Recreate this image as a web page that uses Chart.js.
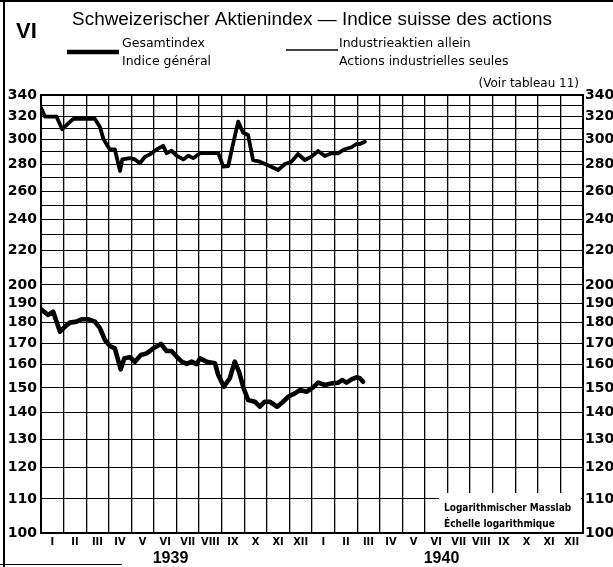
<!DOCTYPE html>
<html>
<head>
<meta charset="utf-8">
<script src="https://cdn.jsdelivr.net/npm/chart.js@4.4.0/dist/chart.umd.min.js"></script>
<style>
  html, body { margin: 0; padding: 0; background: #fff; }
  #wrap { width: 613px; height: 567px; }
</style>
</head>
<body>
<div id="wrap"><canvas id="aktienChart" width="613" height="567"></canvas></div>
<script>
// tick labels
let monthLabels = ['I','II','III','IV','V','VI','VII','VIII','IX','X','XI','XII',
                   'I','II','III','IV','V','VI','VII','VIII','IX','X','XI','XII'];
let yearLabels = ['1939', '1940'];
let yLabelValues = [100,110,120,130,140,150,160,170,180,190,200,220,240,260,280,300,320,340];
let yGridValues = [100,110,120,130,140,150,160,170,180,190,200,210,220,230,240,250,
                   260,270,280,290,300,310,320,330,340];

// x = months after 1 Jan 1939
let gesamtMonth = [0, 0.32, 0.54, 0.84, 1.06, 1.28, 1.58, 1.8, 2.09, 2.39, 2.61, 2.83, 3.05, 3.27,
                   3.53, 3.69, 3.94, 4.16, 4.42, 4.68, 4.97, 5.31, 5.56, 5.78, 6.0, 6.23, 6.45,
                   6.67, 6.89, 7.04, 7.33, 7.7, 7.85, 8.1, 8.36, 8.58, 8.77, 8.95, 9.17, 9.47,
                   9.69, 9.91, 10.13, 10.46, 10.72, 10.94, 11.24, 11.46, 11.76, 12.05, 12.27,
                   12.57, 12.86, 13.15, 13.35, 13.53, 13.75, 13.97, 14.12, 14.26];
let gesamtValue = [186.8, 183.9, 185.6, 175.5, 178, 180, 180.5, 181.7, 181.7, 180.5, 177.2, 171.5,
                   168.6, 167.5, 158, 162.9, 163.4, 161.4, 164.4, 165.2, 167.5, 169.6, 166.3, 166.3,
                   163.7, 161.4, 160.4, 161.4, 160.3, 162.9, 161.4, 160.7, 155.5, 150.5, 154.1,
                   161.4, 156.9, 150.5, 145, 144.3, 142.3, 144.3, 144.3, 142.3, 144.3, 146.3,
                   147.7, 149.1, 148.4, 150.2, 152.2, 151.2, 151.9, 152.2, 153.3, 152.2, 153.6,
                   154.5, 154.1, 152.6];

let industrieMonth = [0, 0.18, 0.69, 0.94, 1.21, 1.43, 2.39, 2.61, 2.76, 2.91, 3.05, 3.27, 3.5,
                      3.6, 3.94, 4.16, 4.38, 4.6, 4.82, 5.12, 5.41, 5.56, 5.78, 6.0, 6.3, 6.52,
                      6.74, 7.04, 7.4, 7.85, 8.07, 8.29, 8.51, 8.73, 8.95, 9.17, 9.39, 9.69,
                      10.13, 10.5, 10.8, 11.09, 11.38, 11.68, 11.98, 12.27, 12.57, 12.86, 13.15,
                      13.45, 13.75, 13.97, 14.12, 14.34];
let industrieValue = [328, 320, 320, 309, 314, 318, 318, 311, 301, 296, 292, 292, 275,
                      284, 285, 284, 281, 286, 288, 292, 295, 289, 291, 287, 284, 287,
                      285, 289, 289, 289, 278.3, 278.8, 297, 315.6, 306, 304, 283.5, 282.2,
                      278.8, 275.7, 280.4, 282.2, 288.3, 283.5, 286.2, 290.8, 286.7, 288.9, 288.9,
                      292.2, 293.8, 296.5, 296.5, 298.4];

function toPoints(xs, ys) {
  return xs.map((x, i) => ({ x: x, y: ys[i] }));
}

let tickFont = { family: 'DejaVu Sans', size: 14, weight: 'bold' };

let decorPlugin = {
  id: 'decor',
  afterDraw: function (chart) {
    let ctx = chart.ctx;
    ctx.save();
    ctx.fillStyle = '#000';
    ctx.strokeStyle = '#000';

    // page frame
    ctx.lineWidth = 2;
    ctx.beginPath();
    ctx.moveTo(4, 0); ctx.lineTo(4, 567);
    ctx.moveTo(0, 1); ctx.lineTo(613, 1);
    ctx.stroke();
    ctx.lineWidth = 1;
    ctx.beginPath();
    ctx.moveTo(0, 564.5); ctx.lineTo(122, 564.5);
    ctx.stroke();

    // heading
    ctx.textBaseline = 'middle';
    ctx.textAlign = 'left';
    ctx.font = 'bold 22px "Liberation Sans"';
    ctx.fillText('VI', 16, 32);
    let title = 'Schweizerischer Aktienindex \u2014 Indice suisse des actions';
    ctx.font = '18px "Liberation Sans"';
    let size = 18 * 480 / ctx.measureText(title).width;
    ctx.font = size.toFixed(1) + 'px "Liberation Sans"';
    ctx.textAlign = 'center';
    ctx.fillText(title, 312, 20);

    // legend
    ctx.lineCap = 'butt';
    ctx.lineWidth = 4.5;
    ctx.beginPath(); ctx.moveTo(67, 52); ctx.lineTo(119, 52); ctx.stroke();
    ctx.lineWidth = 1.5;
    ctx.beginPath(); ctx.moveTo(286, 50); ctx.lineTo(338, 50); ctx.stroke();
    ctx.textAlign = 'left';
    ctx.font = '12.5px "DejaVu Sans"';
    ctx.fillText('Gesamtindex', 122, 44);
    ctx.fillText('Indice g\u00e9n\u00e9ral', 122, 62);
    ctx.fillText('Industrieaktien allein', 339, 44);
    ctx.fillText('Actions industrielles seules', 339, 62);
    ctx.textAlign = 'right';
    ctx.font = '12px "DejaVu Sans"';
    ctx.fillText('(Voir tableau 11)', 579, 84);

    // scale note
    ctx.fillStyle = '#fff';
    ctx.fillRect(439, 493, 142, 39);
    ctx.fillStyle = '#000';
    ctx.textAlign = 'left';
    ctx.font = 'bold 10px "DejaVu Sans Condensed"';
    ctx.fillText('Logarithmischer Masslab', 444, 508);
    ctx.fillText('\u00c9chelle logarithmique', 444, 524);
    ctx.restore();
  }
};

let aktienChart = new Chart(document.getElementById('aktienChart').getContext('2d'), {
  type: 'line',
  data: {
    datasets: [
      {
        label: 'Gesamtindex',
        data: toPoints(gesamtMonth, gesamtValue),
        borderColor: '#000',
        borderWidth: 4.6,
        pointRadius: 0,
        tension: 0,
        borderJoinStyle: 'round',
        borderCapStyle: 'round'
      },
      {
        label: 'Industrieaktien allein',
        data: toPoints(industrieMonth, industrieValue),
        borderColor: '#000',
        borderWidth: 3.8,
        pointRadius: 0,
        tension: 0,
        borderJoinStyle: 'round',
        borderCapStyle: 'round'
      }
    ]
  },
  options: {
    responsive: false,
    animation: false,
    layout: { padding: { top: 95, left: 0, right: 0, bottom: 0 } },
    plugins: {
      legend: { display: false },
      tooltip: { enabled: false }
    },
    scales: {
      x: {
        type: 'linear', min: 0, max: 24, position: 'bottom', weight: 0,
        ticks: { display: false, stepSize: 1 },
        grid: { color: '#000', lineWidth: 1.3, drawTicks: false },
        border: { color: '#000', width: 2 },
        afterFit: function (scale) { scale.height = 0; }
      },
      xm: {
        type: 'category', labels: monthLabels, offset: true, position: 'bottom', weight: 1,
        grid: { display: false, drawTicks: false },
        border: { display: false },
        ticks: { color: '#000', padding: 3, maxRotation: 0, autoSkip: false,
                 font: { family: 'DejaVu Sans Condensed', size: 11, weight: 'bold' } },
        afterFit: function (scale) { scale.height = 16; }
      },
      xy: {
        type: 'category', labels: yearLabels, offset: true, position: 'bottom', weight: 2,
        grid: { display: false, drawTicks: false },
        border: { display: false },
        ticks: { color: '#000', padding: 0, maxRotation: 0, labelOffset: -6,
                 font: { family: 'Liberation Sans', size: 16, weight: 'bold' } },
        afterFit: function (scale) { scale.height = 18; }
      },
      y: {
        type: 'logarithmic', min: 100, max: 340, position: 'left',
        afterBuildTicks: function (scale) {
          scale.ticks = yGridValues.map(v => ({ value: v }));
        },
        ticks: {
          color: '#000', padding: 4, autoSkip: false, font: tickFont,
          callback: function (value) { return yLabelValues.includes(value) ? String(value) : ''; }
        },
        grid: {
          color: '#000', drawTicks: false,
          lineWidth: function (c) { return c.tick && c.tick.value === 340 ? 2 : 1; }
        },
        border: { color: '#000', width: 2 },
        afterFit: function (scale) { scale.width = 41; }
      },
      y2: {
        type: 'logarithmic', min: 100, max: 340, position: 'right',
        afterBuildTicks: function (scale) {
          scale.ticks = yGridValues.map(v => ({ value: v }));
        },
        ticks: {
          color: '#000', padding: 2, autoSkip: false, font: tickFont,
          callback: function (value) { return yLabelValues.includes(value) ? String(value) : ''; }
        },
        grid: { display: false, drawTicks: false },
        border: { color: '#000', width: 2 },
        afterFit: function (scale) { scale.width = 30; }
      }
    }
  },
  plugins: [decorPlugin]
});
</script>
</body>
</html>
